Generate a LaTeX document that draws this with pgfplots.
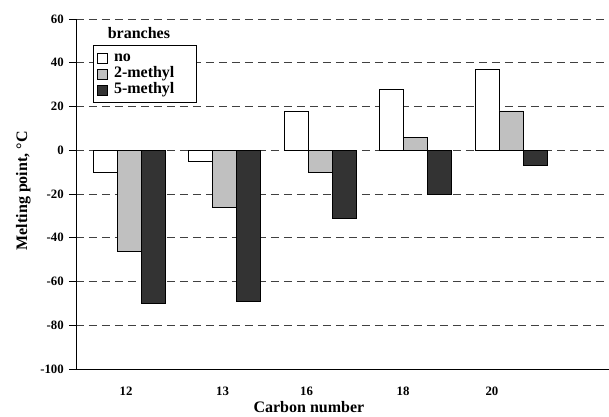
\documentclass[border=0pt]{standalone}
\usepackage{pgfplots}
\pgfplotsset{compat=1.18}
\usepackage{pgfplotstable}
\usepackage{fontspec}
\setmainfont{Liberation Serif}

\definecolor{barlight}{HTML}{C0C0C0}
\definecolor{bardark}{HTML}{333333}

% melting points (deg C) by carbon number and branching
\pgfplotstableread{
idx no twomethyl fivemethyl
0 -10 -46 -70
1 -5 -26 -69
2 18 -10 -31
3 28 6 -20
4 37 18 -7
}\melting

\begin{document}
\begin{tikzpicture}
\begin{axis}[
  name=ax,
  scale only axis,
  width=533pt, height=350pt,
  xmin=-0.555, xmax=5.026,
  ymin=-100, ymax=60,
  ytick={-100,-80,...,60},
  xtick={-0.03,0.98,1.86,2.87,3.80},
  xticklabels={12,13,16,18,20},
  axis x line*=bottom,
  axis y line*=left,
  axis line style={black, line width=0.9pt},
  tick align=outside,
  major tick length=7pt,
  xtick style={draw=none},
  ytick style={black, line width=0.8pt},
  ymajorgrids=true,
  major grid style={black!75, line width=0.8pt, dash pattern=on 8pt off 5pt},
  /pgf/number format/assume math mode=true,
  tick label style={font=\fontsize{12.8}{14}\selectfont\bfseries},
  yticklabel style={anchor=east, inner sep=0pt, xshift=-5pt},
  xticklabel style={anchor=north, inner sep=0pt, yshift=-11pt},
  xlabel={Carbon number},
  ylabel={Melting point, °C},
  label style={font=\fontsize{16}{18}\selectfont\bfseries},
  xlabel style={at={(axis description cs:0.437,0)}, anchor=base, yshift=-43pt, inner sep=0pt},
  ylabel style={at={(axis description cs:-0.0919,0.509)}, anchor=base, inner sep=0pt},
  ybar=0pt,
  bar width=24pt,
  legend cell align=left,
  legend style={
    at={(rel axis cs:0.0319,0.9257)}, anchor=north west,
    draw=black, line width=0.8pt,
    inner xsep=4pt, inner ysep=5pt,
    column sep=6pt, row sep=1pt,
    font=\fontsize{16}{16}\selectfont\bfseries,
    nodes={inner sep=0pt, text height=11pt, text depth=4pt},
  },
  legend image code/.code={
    \draw[#1, line width=0.6pt] (0pt,-5pt) rectangle (10pt,5pt);
  },
]
\addplot[draw=black, line width=0.6pt, fill=white] table[x=idx, y=no] {\melting};
\addlegendentry{\makebox[78pt][l]{no}}
\addplot[draw=black, line width=0.6pt, fill=barlight] table[x=idx, y=twomethyl] {\melting};
\addlegendentry{\makebox[78pt][l]{2-methyl}}
\addplot[draw=black, line width=0.6pt, fill=bardark] table[x=idx, y=fivemethyl] {\melting};
\addlegendentry{\makebox[78pt][l]{5-methyl}}
\node[font=\fontsize{16}{16}\selectfont\bfseries, anchor=center]
  at (rel axis cs:0.118,0.96) {branches};
\end{axis}
\pgfresetboundingbox
\path ([xshift=-76pt,yshift=-47pt]ax.south west) rectangle ([yshift=19pt]ax.north east);
\end{tikzpicture}
\end{document}
